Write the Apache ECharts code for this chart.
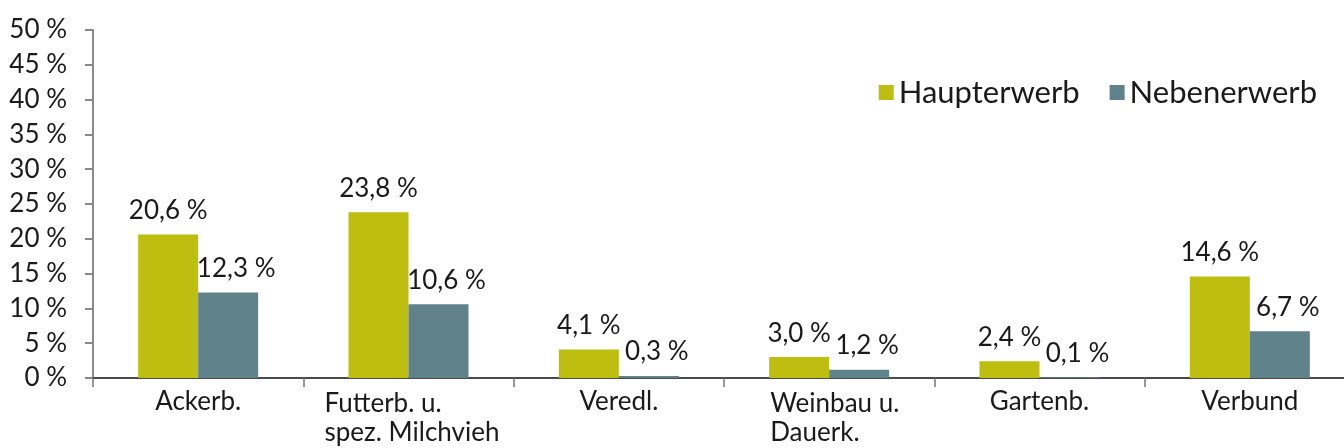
<!DOCTYPE html>
<html>
<head>
<meta charset="utf-8">
<script src="https://cdn.jsdelivr.net/npm/echarts@6/dist/echarts.min.js"></script>
<style>html,body{margin:0;padding:0;background:#fff;overflow:hidden;width:1344px;height:448px}#c{width:1355px;height:448px}</style>
</head>
<body>
<div id="c"></div>
<script>
const categories = ['Ackerb.', 'Futterb. u.\nspez. Milchvieh', 'Veredl.', 'Weinbau u.\nDauerk.', 'Gartenb.', 'Verbund'];
const seriesNames = ['Haupterwerb', 'Nebenerwerb'];
const haupterwerb = [20.6, 23.8, 4.1, 3.0, 2.4, 14.6];
const nebenerwerb = [12.3, 10.6, 0.3, 1.2, 0.1, 6.7];
const yTicks = [0, 5, 10, 15, 20, 25, 30, 35, 40, 45, 50];

const FONT = 'Lato';
const FS = 26;
const chart = echarts.init(document.getElementById('c'));
const fmtVal = p => p.value.toFixed(1).replace('.', ',') + ' %';
chart.setOption({
  animation: false,
  textStyle: { fontFamily: FONT },
  grid: { left: 93, right: 0, top: 30, bottom: 70, containLabel: false },
  legend: {
    right: 33, top: 72, itemWidth: 15, itemHeight: 15, itemGap: 30,
    icon: 'rect',
    textStyle: { fontFamily: FONT, fontSize: 31, color: '#1a1a1a' },
    data: seriesNames
  },
  xAxis: {
    type: 'category', data: categories,
    axisLine: { lineStyle: { color: '#111', width: 1.5 } },
    axisTick: { show: true, length: 9, lineStyle: { color: '#777', width: 1.5 } },
    axisLabel: {
      margin: 11, fontSize: FS, color: '#1a1a1a', fontFamily: FONT, interval: 0,
      formatter: v => {
        if (v.indexOf('\n') < 0) return v;
        const key = v.startsWith('Futterb') ? 'a' : 'b';
        return v.split('\n').map(s => '{' + key + '|' + s + '}').join('\n');
      },
      rich: {
        a: { width: 186, align: 'left', fontSize: FS, lineHeight: 29, color: '#1a1a1a', fontFamily: FONT, padding: [0, 0, 0, 18] },
        b: { width: 124, align: 'left', fontSize: FS, lineHeight: 29, color: '#1a1a1a', fontFamily: FONT, padding: [0, 0, 0, 6] }
      }
    }
  },
  yAxis: {
    type: 'value', min: yTicks[0], max: yTicks[yTicks.length - 1], interval: 5,
    axisLine: { show: true, lineStyle: { color: '#8a8a8a', width: 2 } },
    axisTick: { show: true, length: 8, lineStyle: { color: '#8a8a8a', width: 2 } },
    splitLine: { show: false },
    axisLabel: { margin: 26, fontSize: FS, color: '#1a1a1a', fontFamily: FONT, formatter: '{value} %' }
  },
  series: [
    {
      name: seriesNames[0], type: 'bar', data: haupterwerb, barWidth: 60, barGap: '0%',
      itemStyle: { color: '#BDBE0F' },
      label: { show: true, position: 'top', distance: 11, fontSize: FS, color: '#1a1a1a', fontFamily: FONT, formatter: fmtVal }
    },
    {
      name: seriesNames[1], type: 'bar', data: nebenerwerb, barWidth: 60, barGap: '0%',
      itemStyle: { color: '#60828A' },
      label: { show: true, position: 'top', distance: 11, offset: [8, 0], fontSize: FS, color: '#1a1a1a', fontFamily: FONT, formatter: fmtVal }
    }
  ]
});
</script>
</body>
</html>
